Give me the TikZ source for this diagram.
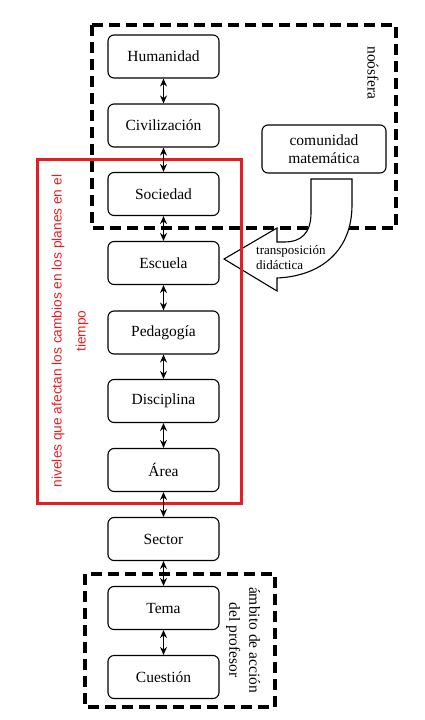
\documentclass[tikz,border=0pt]{standalone}
\usepackage{fontspec}
\setmainfont{Liberation Serif}
\newfontfamily\redsans{Liberation Sans}
\usetikzlibrary{arrows.meta}
\definecolor{boxred}{RGB}{230,30,35}
\begin{document}
\begin{tikzpicture}[x=1pt,y=-1pt,
  level/.style={draw=black, line width=1.1pt, rounded corners=6pt, minimum width=111pt, minimum height=43pt, inner sep=0pt, font=\fontsize{15.5}{17}\selectfont, fill=white},
  link/.style={<->, >={Stealth[length=8pt,width=7pt]}, line width=1.6pt},
  dashbox/.style={draw=black, line width=3.2pt, dash pattern=on 11pt off 6pt},
  sidelabel/.style={font=\fontsize{15.5}{20}\selectfont, align=center, inner sep=0pt}]
\useasboundingbox (0,0) rectangle (424,720);
% dashed areas
\draw[dashbox] (92,25) rectangle (396,228);
\draw[dashbox] (85,574) rectangle (275,707);
% transposition arrow
\draw[line width=1.1pt, fill=white]
  (311,179) -- (311,213) .. controls (311,234) and (300,242) .. (285,242) -- (277,242)
  -- (277,228) -- (224,259) -- (277,291) -- (277,278)
  .. controls (322,276) and (352,250) .. (352,205) -- (352,179) -- cycle;
\node[font=\fontsize{13}{15}\selectfont, align=left, inner sep=0pt, anchor=west] (tr) at (256,258) {transposición\\didáctica};
% red area
\draw[draw=boxred, line width=3pt] (37,159) rectangle (241,503);
\node[rotate=90, text=boxred, font=\redsans\fontsize{13.7}{24}\selectfont, align=center, inner sep=0pt] (niv) at (70,331)
  {niveles que afectan los cambios en los planes en el\\tiempo};
% levels
\node[level] (hum) at (163.5,56.5) {Humanidad};
\node[level] (civ) at (163.5,125.5) {Civilización};
\node[level] (soc) at (163.5,194) {Sociedad};
\node[level] (esc) at (163.5,263) {Escuela};
\node[level] (ped) at (163.5,332.5) {Pedagogía};
\node[level] (dis) at (163.5,401) {Disciplina};
\node[level] (are) at (163.5,470) {Área};
\node[level] (sec) at (163.5,539) {Sector};
\node[level] (tem) at (163.5,608) {Tema};
\node[level] (cue) at (163.5,677) {Cuestión};
\node[level, minimum width=124pt, minimum height=48pt, align=center, font=\fontsize{15.5}{18}\selectfont] (com) at (324,149) {comunidad\\matemática};
% links
\draw[link] (hum.south) -- (civ.north);
\draw[link] (civ.south) -- (soc.north);
\draw[link] (soc.south) -- (esc.north);
\draw[link] (esc.south) -- (ped.north);
\draw[link] (ped.south) -- (dis.north);
\draw[link] (dis.south) -- (are.north);
\draw[link] (are.south) -- (sec.north);
\draw[link] (sec.south) -- (tem.north);
\draw[link] (tem.south) -- (cue.north);
% side labels
\node[sidelabel, rotate=-90] (noo) at (373,73) {noósfera};
\node[sidelabel, rotate=-90] (amb) at (243,640) {ámbito de acción\\del profesor};
\end{tikzpicture}
\end{document}
